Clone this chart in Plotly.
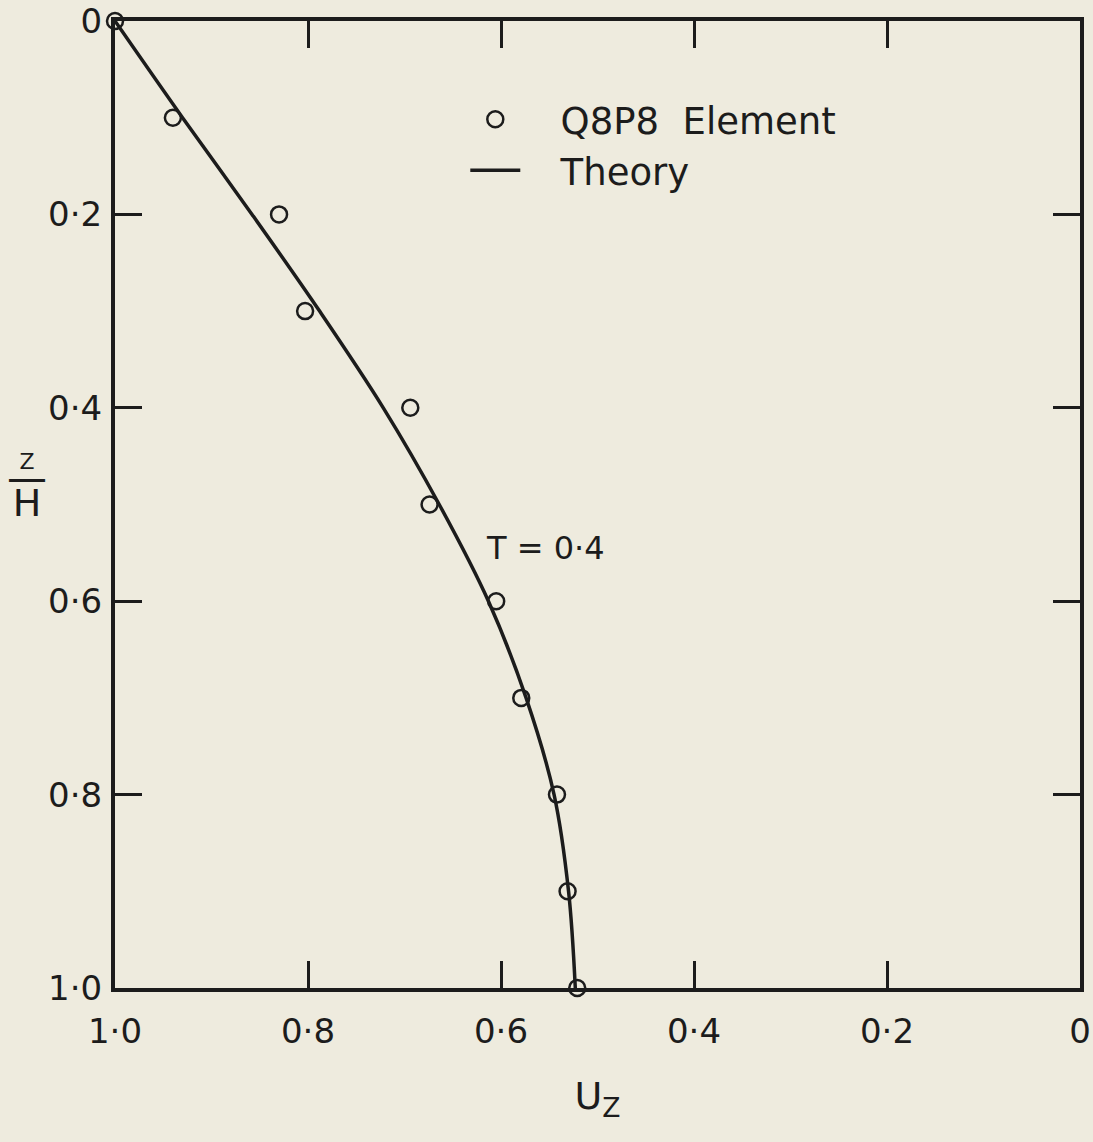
import plotly.graph_objects as go

# z/H depth values and U_z readings
z_elem = [0.0, 0.1, 0.2, 0.3, 0.4, 0.5, 0.6, 0.7, 0.8, 0.9, 1.0]
u_elem = [1.0, 0.940, 0.830, 0.803, 0.694, 0.674, 0.605, 0.579, 0.542, 0.531, 0.521]

z_theory = [0.0, 0.1, 0.2, 0.3, 0.4, 0.5, 0.6, 0.7, 0.8, 0.9, 1.0]
u_theory = [1.0, 0.930, 0.858, 0.788, 0.722, 0.664, 0.613, 0.574, 0.545, 0.530, 0.523]

tick_vals = [0.0, 0.2, 0.4, 0.6, 0.8, 1.0]
tick_text = ['0', '0·2', '0·4', '0·6', '0·8', '1·0']

ink = '#1c1c1c'
bg = '#EEEBDE'
font = 'DejaVu Sans'
pad = '\u00a0' * 3

fig = go.Figure()
fig.add_trace(go.Scatter(x=u_theory, y=z_theory, mode='lines', name=pad + 'Theory',
                         line=dict(color=ink, width=3.5, shape='spline', smoothing=1.0),
                         cliponaxis=False))
fig.add_trace(go.Scatter(x=u_elem, y=z_elem, mode='markers', name=pad + 'Q8P8\u00a0\u00a0Element',
                         marker=dict(symbol='circle-open', size=16, color=ink, line=dict(width=2.5, color=ink)),
                         cliponaxis=False))

axis_common = dict(range=[1.0, 0.0], tickvals=tick_vals, ticktext=tick_text,
                   ticks='inside', ticklen=27, tickwidth=2.5, tickcolor=ink,
                   showline=True, linecolor=ink, linewidth=4, mirror='ticks',
                   showgrid=False, zeroline=False, automargin=False,
                   tickfont=dict(family=font, size=34, color=ink))

fig.update_xaxes(**axis_common, ticklabelstandoff=10,
                 title=dict(text='U<sub>Z</sub>', font=dict(family=font, size=38, color=ink), standoff=34))
fig.update_yaxes(**axis_common, ticklabelstandoff=2)

fig.add_annotation(text='T = 0·4', x=0.554, y=0.545, xref='x', yref='y', showarrow=False,
                   font=dict(family=font, size=32, color=ink))
# z/H fraction label
fig.add_annotation(text="<span style='font-size:22px'>Z</span><br>"
                        "<span style='font-size:40px'>\u2014</span><br>"
                        "<span style='font-size:38px'>H</span>",
                   x=-0.091, y=0.518, xref='paper', yref='paper', showarrow=False,
                   xanchor='center', yanchor='middle', align='center',
                   font=dict(family=font, size=18, color=ink))

fig.update_layout(width=1093, height=1142, template='plotly_white',
                  paper_bgcolor=bg, plot_bgcolor=bg,
                  margin=dict(l=115, r=13, t=21, b=154),
                  legend=dict(x=0.363, y=0.93, xanchor='left', yanchor='top',
                              bgcolor='rgba(0,0,0,0)', traceorder='reversed',
                              itemwidth=50,
                              font=dict(family=font, size=37, color=ink)))

fig.write_html('out.html', config={'displayModeBar': False},
               post_script="document.body.style.margin='0';")
